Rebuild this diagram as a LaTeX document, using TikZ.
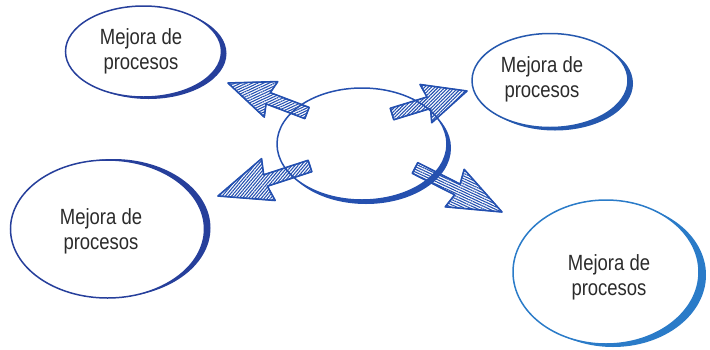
\documentclass[tikz,border=0pt]{standalone}
\usepackage{fontspec}
\setmainfont{Liberation Sans}[FakeStretch=0.84]
\usetikzlibrary{shapes.geometric,calc,patterns.meta}
\definecolor{ellDark}{HTML}{263F9B}
\definecolor{ellMid}{HTML}{2558AE}
\definecolor{ellLight}{HTML}{2A7BC8}
\definecolor{ellCenter}{HTML}{2550AF}
\definecolor{arrBlue}{HTML}{2450B0}
\definecolor{txtGray}{HTML}{2B2B2B}
\tikzset{
  ringshape/.style={ellipse, draw, line width=1.5pt, inner sep=0pt},
  ptxt/.style={align=center, text=txtGray, font=\fontsize{22}{25}\selectfont, inner sep=0pt},
  hatcharrowstyle/.style={draw=arrBlue, line width=1.6pt, line join=round, pattern color=arrBlue},
}
\newcommand\brushring[5]{%
  \begin{scope}[even odd rule]
    \clip (-20,-20) rectangle (730,370) (#1.center) ellipse [x radius=#2, y radius=#3];
    \fill[#5] ($(#1.center)+(#4)$) ellipse [x radius=#2, y radius=#3];
  \end{scope}}
\newcommand\hatcharrow[5]{%
  \coordinate (hb) at ($(#2)!#3!(#1)$);
  \coordinate (hbb) at ($(#2)!#3+3pt!(#1)$);
  \draw[hatcharrowstyle, pattern={Lines[angle=#5,distance=2.4pt,line width=1.1pt]}]
    ($(#1)!6pt!90:(#2)$) -- ($(hb)!6pt!90:(#2)$) -- ($(hbb)!#4!90:(#2)$) -- (#2)
    -- ($(hbb)!#4!-90:(#2)$) -- ($(hb)!6pt!-90:(#2)$) -- ($(#1)!6pt!-90:(#2)$) -- cycle;
  \draw[arrBlue, line width=0.9pt, line join=round, shift={(1.3,1.1)}]
    ($(#1)!6pt!90:(#2)$) -- ($(hb)!6pt!90:(#2)$) -- ($(hbb)!#4!90:(#2)$) -- (#2)
    -- ($(hbb)!#4!-90:(#2)$) -- ($(hb)!6pt!-90:(#2)$) -- ($(#1)!6pt!-90:(#2)$) -- cycle;
}
\begin{document}
\begin{tikzpicture}[x=1pt, y=-1pt]
\useasboundingbox (0,0) rectangle (710,349);
% arrow end points
\coordinate (a1t) at (307,113); \coordinate (a1p) at (228,83);
\coordinate (a2t) at (392,114); \coordinate (a2p) at (467,91);
\coordinate (a3t) at (310,166); \coordinate (a3p) at (218,196);
\coordinate (a4t) at (415,168); \coordinate (a4p) at (502,212);
\hatcharrow{a1t}{a1p}{43pt}{19pt}{25}
\hatcharrow{a2t}{a2p}{40pt}{20pt}{45}
\hatcharrow{a3t}{a3p}{50pt}{22pt}{50}
\hatcharrow{a4t}{a4p}{50pt}{21pt}{-25}
% rings
\node[ringshape, draw=ellDark, minimum width=156pt, minimum height=91pt] (tl) at (143.5,51.5) {};
\node[ringshape, draw=ellMid, minimum width=156pt, minimum height=94pt] (tr) at (550,80.5) {};
\node[ringshape, draw=ellDark, minimum width=194pt, minimum height=138pt] (bl) at (107.5,229) {};
\node[ringshape, draw=ellLight, minimum width=186pt, minimum height=144pt] (br) at (606,272) {};
\node[ringshape, draw=ellCenter, minimum width=170pt, minimum height=112pt] (ce) at (362,144) {};
\brushring{tl}{78}{45.5}{5,2}{ellDark}
\brushring{tr}{78}{47}{5,3}{ellMid}
\brushring{bl}{97}{69}{6,-1}{ellDark}
\brushring{br}{93}{72}{7,3}{ellLight}
\brushring{ce}{85}{56}{4,4}{ellCenter}
% texts
\node[ptxt] (tlt) at (141,51) {Mejora de\\procesos};
\node[ptxt] (trt) at (542,79) {Mejora de\\procesos};
\node[ptxt] (blt) at (101,231) {Mejora de\\procesos};
\node[ptxt] (brt) at (609,277) {Mejora de\\procesos};
\end{tikzpicture}
\end{document}
